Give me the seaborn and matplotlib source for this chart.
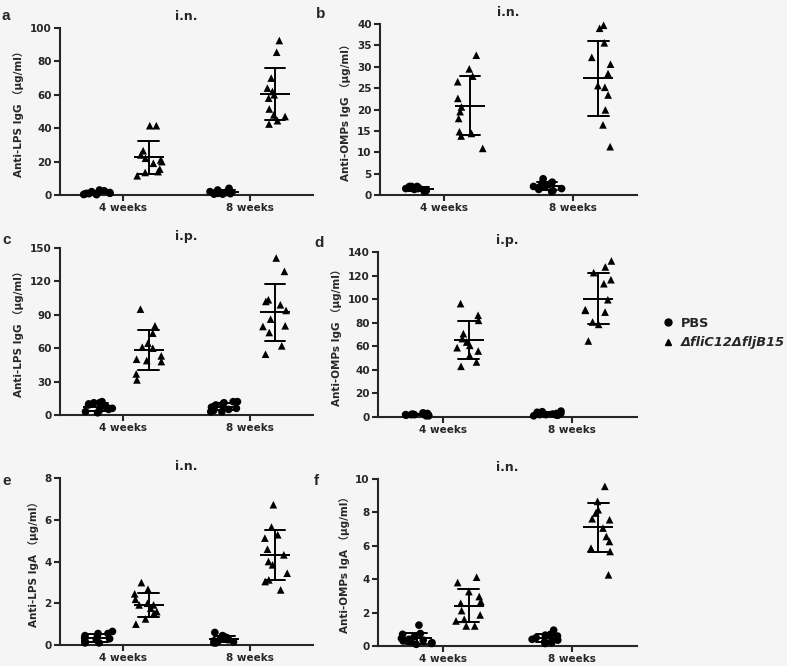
import seaborn as sns
import matplotlib.pyplot as plt
import matplotlib.lines as mlines
import numpy as np
import pandas as pd

sns.set_style('ticks')
plt.rcParams['font.family'] = ['DejaVu Sans', 'Noto Sans CJK SC']
np.random.seed(3)  # fixed jitter only

weeks = ['4 weeks', '8 weeks']
groups = ['PBS', 'ΔfliC12ΔfljB15']

# a : anti-LPS IgG, i.n.
a_pbs_4w = [3, 2.5, 2, 1.5, 1.5, 1, 1, 0.8, 0.5, 0.5, 0.3, 0.2]
a_mut_4w = [41.5, 41.5, 26.5, 24, 22, 21, 20, 19, 15.5, 14, 13.5, 11.5]
a_pbs_8w = [4, 3, 2.5, 2, 2, 1.5, 1.5, 1, 1, 0.8, 0.5, 0.5]
a_mut_8w = [92.5, 85.5, 70, 64, 62, 60, 58, 51.5, 48, 47, 44.5, 42.5]

# b : anti-OMPs IgG, i.n.
b_pbs_4w = [2, 2, 2, 1.8, 1.6, 1.5, 1.5, 1.3, 1.2, 1, 1, 0.8]
b_mut_4w = [32.7, 29.5, 27.8, 26.5, 22.6, 20.6, 19.5, 17.9, 14.8, 14.4, 13.8, 10.9]
b_pbs_8w = [3.8, 3, 2.8, 2.5, 2.3, 2, 2, 1.8, 1.5, 1.3, 1, 0.8]
b_mut_8w = [39.7, 39, 35.6, 32.2, 30.6, 28.4, 25.2, 25.6, 23.4, 19.9, 16.4, 11.3]

# c : anti-LPS IgG, i.p.
c_pbs_4w = [12, 11, 11, 10, 9, 8, 7, 6, 5, 4, 3, 2]
c_mut_4w = [95.1, 80.1, 73.5, 64.5, 60.9, 60, 53.1, 48.9, 50.1, 36.9, 31.5, 48]
c_pbs_8w = [12, 12, 11, 10, 9, 8, 7, 6, 5, 4, 3, 3]
c_mut_8w = [141, 129, 102, 103.5, 99, 93.9, 86.1, 79.5, 80.1, 74.1, 62.1, 54.6]

# d : anti-OMPs IgG, i.p.
d_pbs_4w = [3.5, 3, 3, 2.5, 2.5, 2, 2, 2, 1.5, 1.5, 1, 1]
d_mut_4w = [96.2, 86.3, 82, 70.7, 66.5, 63.6, 60.8, 58.8, 56, 52.3, 46.7, 43]
d_pbs_8w = [5, 4.5, 4, 3.5, 3, 3, 2.5, 2, 2, 1.5, 1.5, 1]
d_mut_8w = [132.4, 127.3, 122.5, 116.5, 113.1, 99.5, 91, 90.5, 89, 80.6, 78.6, 64.5]

# e : anti-LPS IgA, i.n.
e_pbs_4w = [0.65, 0.55, 0.55, 0.45, 0.4, 0.35, 0.3, 0.25, 0.2, 0.15, 0.1, 0.1]
e_mut_4w = [2.99, 2.67, 2.45, 2.19, 2.0, 1.92, 1.92, 1.6, 1.76, 1.52, 1.25, 1.0]
e_pbs_8w = [0.6, 0.45, 0.4, 0.35, 0.3, 0.3, 0.25, 0.2, 0.15, 0.15, 0.1, 0.1]
e_mut_8w = [6.72, 5.65, 5.28, 5.12, 4.59, 4.32, 4.0, 3.84, 3.44, 3.12, 3.04, 2.64]

# f : anti-OMPs IgA, i.n.
f_pbs_4w = [1.25, 0.75, 0.7, 0.55, 0.45, 0.4, 0.35, 0.3, 0.25, 0.2, 0.15, 0.1]
f_mut_4w = [4.12, 3.8, 3.26, 2.96, 2.66, 2.56, 2.12, 1.86, 1.6, 1.5, 1.2, 1.2]
f_pbs_8w = [0.95, 0.7, 0.65, 0.6, 0.5, 0.45, 0.4, 0.35, 0.3, 0.25, 0.2, 0.15]
f_mut_8w = [9.56, 8.66, 8.16, 7.96, 7.62, 7.56, 7.06, 6.56, 6.26, 5.86, 5.66, 4.26]

panel_letters = ['a', 'b', 'c', 'd', 'e', 'f']
panel_titles = ['i.n.', 'i.n.', 'i.p.', 'i.p.', 'i.n.', 'i.n.']
panel_ylabels = ['Anti-LPS IgG （μg/ml）', 'Anti-OMPs IgG （μg/ml）',
                 'Anti-LPS IgG （μg/ml）', 'Anti-OMPs IgG （μg/ml）',
                 'Anti-LPS IgA （μg/ml）', 'Anti-OMPs IgA （μg/ml）']
panel_ymax = [100, 40, 150, 140, 8, 10]
panel_ystep = [20, 5, 30, 20, 2, 2]
panel_data = [
    (a_pbs_4w, a_mut_4w, a_pbs_8w, a_mut_8w),
    (b_pbs_4w, b_mut_4w, b_pbs_8w, b_mut_8w),
    (c_pbs_4w, c_mut_4w, c_pbs_8w, c_mut_8w),
    (d_pbs_4w, d_mut_4w, d_pbs_8w, d_mut_8w),
    (e_pbs_4w, e_mut_4w, e_pbs_8w, e_mut_8w),
    (f_pbs_4w, f_mut_4w, f_pbs_8w, f_mut_8w),
]

# axes boxes in pixels: left, top, right, bottom
W, H = 787, 666
boxes = [(60, 28, 313, 195), (380, 24, 637, 195),
         (60, 248, 313, 415), (378, 252, 637, 417),
         (60, 478, 313, 645), (378, 479, 637, 646)]
letter_xy = [(2, 20), (316, 18), (2, 244), (314, 247), (2, 485), (314, 485)]

bg = '#f5f5f5'
pal = ['k', 'k']


def make_df(pbs4, mut4, pbs8, mut8):
    rows = []
    for wk, grp, vals in [(weeks[0], groups[0], pbs4), (weeks[0], groups[1], mut4),
                          (weeks[1], groups[0], pbs8), (weeks[1], groups[1], mut8)]:
        for v in vals:
            rows.append({'week': wk, 'group': grp, 'value': v})
    return pd.DataFrame(rows)


fig = plt.figure(figsize=(W / 100, H / 100), dpi=100, facecolor=bg)

for i in range(6):
    l, t, r, b = boxes[i]
    ax = fig.add_axes([l / W, 1 - b / H, (r - l) / W, (b - t) / H])
    ax.set_facecolor(bg)
    df = make_df(*panel_data[i])

    # points: circles for PBS, triangles for mutant
    sns.stripplot(data=df[df.group == groups[0]], x='week', y='value', hue='group',
                  order=weeks, hue_order=groups, dodge=True, jitter=0.24, palette=pal,
                  marker='o', size=5.5, legend=False, ax=ax, clip_on=False)
    sns.stripplot(data=df[df.group == groups[1]], x='week', y='value', hue='group',
                  order=weeks, hue_order=groups, dodge=True, jitter=0.22, palette=pal,
                  marker='^', size=5.5, legend=False, ax=ax, clip_on=False)
    # mean +/- SD
    sns.pointplot(data=df, x='week', y='value', hue='group', order=weeks,
                  hue_order=groups, dodge=0.4, errorbar='sd', capsize=0.16,
                  palette=pal, linestyle='none', marker='_', markersize=21,
                  markeredgewidth=1.4, err_kws={'linewidth': 1.4},
                  legend=False, ax=ax)

    ax.set_xlim(-0.5, 1.5)
    ax.set_ylim(0, panel_ymax[i])
    ax.set_yticks(np.arange(0, panel_ymax[i] + panel_ystep[i] / 2, panel_ystep[i]))
    sns.despine(ax=ax)
    for s in ['left', 'bottom']:
        ax.spines[s].set_linewidth(1.5)
    ax.tick_params(direction='out', length=4, width=1.5, labelsize=7.5, pad=2)
    for lab in ax.get_xticklabels() + ax.get_yticklabels():
        lab.set_fontweight('bold')
    ax.set_xlabel('')
    ax.set_ylabel(panel_ylabels[i], fontsize=7.5, fontweight='bold')
    ax.set_title(panel_titles[i], fontsize=9, fontweight='bold', pad=6)
    fig.text(letter_xy[i][0] / W, 1 - letter_xy[i][1] / H, panel_letters[i],
             fontsize=11, fontweight='bold', family='Liberation Sans')

handles = [mlines.Line2D([], [], color='k', marker='o', linestyle='none', markersize=5),
           mlines.Line2D([], [], color='k', marker='^', linestyle='none', markersize=5)]
leg = fig.legend(handles, groups, loc='center left',
                 bbox_to_anchor=(650 / W, 1 - 333 / H), frameon=False,
                 prop={'weight': 'bold', 'size': 9.3}, handletextpad=0.5,
                 labelspacing=0.5, handlelength=1)
leg.get_texts()[1].set_style('italic')

fig.savefig('out.png', dpi=100, facecolor=bg)
